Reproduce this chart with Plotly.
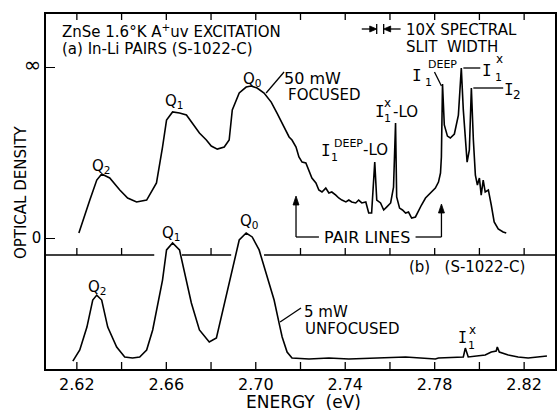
import plotly.graph_objects as go

# ---- (a) 50 mW focused excitation: energy (eV) and optical density (0 .. inf mark at 1)
energy_a = [2.6209, 2.6227, 2.6258, 2.6289, 2.6311, 2.6347, 2.6392, 2.6427, 2.6467, 2.6512,
            2.6556, 2.6583, 2.6601, 2.6628, 2.6659, 2.6690, 2.6717, 2.6748, 2.6779, 2.6801,
            2.6828, 2.6859, 2.6881, 2.6895, 2.6926, 2.6957, 2.6979, 2.7006, 2.7037, 2.7069,
            2.7095, 2.7126, 2.7149, 2.7162, 2.7180, 2.7193, 2.7207, 2.7224, 2.7238, 2.7251,
            2.7269, 2.7282, 2.7296, 2.7313, 2.7327, 2.7340, 2.7358, 2.7371, 2.7385, 2.7403,
            2.7416, 2.7429, 2.7447, 2.7460, 2.7474, 2.7492, 2.7505, 2.7518, 2.7532, 2.7541,
            2.7558, 2.7572, 2.7585, 2.7603, 2.7616, 2.7625, 2.7630, 2.7643, 2.7656, 2.7670,
            2.7683, 2.7697, 2.7714, 2.7728, 2.7741, 2.7759, 2.7772, 2.7786, 2.7803, 2.7817,
            2.7826, 2.7830, 2.7835, 2.7843, 2.7857, 2.7870, 2.7888, 2.7906, 2.7919, 2.7928,
            2.7945, 2.7955, 2.7964, 2.7973, 2.7982, 2.7991, 2.8000, 2.8008, 2.8017, 2.8026,
            2.8040, 2.8053, 2.8066, 2.8084, 2.8106, 2.8120]
od_a = [0.029, 0.105, 0.222, 0.339, 0.374, 0.351, 0.281, 0.234, 0.211, 0.222,
        0.322, 0.532, 0.690, 0.737, 0.731, 0.719, 0.673, 0.614, 0.573, 0.538,
        0.520, 0.532, 0.573, 0.749, 0.848, 0.883, 0.889, 0.877, 0.848, 0.795,
        0.731, 0.649, 0.591, 0.573, 0.532, 0.474, 0.444, 0.439, 0.398, 0.351,
        0.322, 0.281, 0.269, 0.292, 0.263, 0.269, 0.251, 0.234, 0.222, 0.211,
        0.222, 0.211, 0.205, 0.222, 0.205, 0.211, 0.146, 0.146, 0.444, 0.222,
        0.205, 0.164, 0.181, 0.205, 0.298, 0.673, 0.240, 0.175, 0.164, 0.146,
        0.152, 0.117, 0.123, 0.164, 0.193, 0.234, 0.251, 0.269, 0.292, 0.327,
        0.380, 0.474, 0.901, 0.661, 0.596, 0.585, 0.608, 0.719, 0.994, 0.749,
        0.444, 0.515, 0.877, 0.573, 0.368, 0.310, 0.351, 0.251, 0.339, 0.269,
        0.281, 0.193, 0.094, 0.053, 0.035, 0.029]

# ---- (b) 5 mW unfocused excitation (own baseline)
energy_b = [2.6182, 2.6213, 2.6245, 2.6271, 2.6289, 2.6311, 2.6338, 2.6378, 2.6414, 2.6449,
            2.6481, 2.6512, 2.6539, 2.6570, 2.6583, 2.6601, 2.6628, 2.6659, 2.6681, 2.6690,
            2.6712, 2.6748, 2.6792, 2.6824, 2.6850, 2.6881, 2.6895, 2.6926, 2.6957, 2.6984,
            2.7015, 2.7046, 2.7082, 2.7104, 2.7118, 2.7140, 2.7162, 2.7238, 2.7327, 2.7416,
            2.7549, 2.7670, 2.7803, 2.7817, 2.7928, 2.7937, 2.7950, 2.8026, 2.8053, 2.8075,
            2.8080, 2.8089, 2.8129, 2.8173, 2.8218, 2.8262, 2.8302]
od_b = [-0.018, 0.047, 0.181, 0.339, 0.368, 0.339, 0.181, 0.064, 0.006, 0.000,
        0.006, 0.047, 0.164, 0.357, 0.456, 0.632, 0.673, 0.632, 0.497, 0.456,
        0.322, 0.164, 0.094, 0.117, 0.263, 0.456, 0.532, 0.690, 0.731, 0.708,
        0.632, 0.497, 0.339, 0.205, 0.123, 0.035, 0.000, -0.006, 0.000, -0.006,
        0.000, 0.006, -0.006, 0.000, 0.006, 0.058, 0.006, 0.018, 0.035, 0.041,
        0.064, 0.035, 0.018, 0.006, 0.000, 0.006, 0.012]

# ---- axis ticks
label_energies = [2.62, 2.66, 2.70, 2.74, 2.78, 2.82]
label_texts = ["2.62", "2.66", "2.70", "2.74", "2.78", "2.82"]
tick_energies = [2.62, 2.64, 2.66, 2.68, 2.70, 2.72, 2.74, 2.76, 2.78, 2.80, 2.82]
od_ticks = [0, 1]
od_tick_labels = ["0", '<span style="font-size:21px">∞</span>']

# energy intervals where the panel divider is broken to let curve (b) pass
divider_breaks = [(2.6546, 2.6670), (2.6890, 2.7037)]

# ---- page geometry (pixels)
W, H = 558, 411
ML, MR, MT, MB = 46, 1, 14, 42
PW, PH = W - ML - MR, H - MT - MB
X_RANGE = [2.6062, 2.8338]
Y_RANGE_A = [-0.766, 1.310]
Y_RANGE_B = [-0.0643, 2.0117]
DIVIDER_PX = 255  # boundary between panels (a) and (b)


def fx(x):
    return (x - ML) / PW


def fy(y):
    return (H - MB - y) / PH


FONT = "DejaVu Sans"
SERIF_I = '<span style="font-family:DejaVu Sans Mono">I</span>'

fig = go.Figure()
fig.add_trace(go.Scatter(x=energy_a, y=od_a, mode="lines",
                         line=dict(color="black", width=1.6), yaxis="y", hoverinfo="skip"))
fig.add_trace(go.Scatter(x=energy_b, y=od_b, mode="lines",
                         line=dict(color="black", width=1.6), yaxis="y2", hoverinfo="skip"))

shapes = []
annotations = []


def seg(x0, y0, x1, y1, w=1.3):
    shapes.append(dict(type="line", xref="paper", yref="paper",
                       x0=fx(x0), y0=fy(y0), x1=fx(x1), y1=fy(y1),
                       line=dict(color="black", width=w)))


def head(pts):
    """Filled arrowhead triangle given three pixel points."""
    p = "M {} {} L {} {} L {} {} Z".format(*[v for x, y in pts for v in (fx(x), fy(y))])
    shapes.append(dict(type="path", xref="paper", yref="paper", path=p,
                       fillcolor="black", line=dict(color="black", width=0.8)))


def lab(text, x, y, size=15, xanchor="center", yanchor="middle"):
    annotations.append(dict(text=text, x=fx(x), y=fy(y), xref="paper", yref="paper",
                            showarrow=False, xanchor=xanchor, yanchor=yanchor,
                            font=dict(family=FONT, size=size, color="black")))


# ticks along the top and bottom frame edges
for e in tick_energies:
    shapes.append(dict(type="line", xref="x", yref="paper", x0=e, x1=e,
                       ysizemode="pixel", yanchor=0, y0=0, y1=7,
                       line=dict(color="black", width=1.3)))
    shapes.append(dict(type="line", xref="x", yref="paper", x0=e, x1=e,
                       ysizemode="pixel", yanchor=1, y0=0, y1=-6,
                       line=dict(color="black", width=1.3)))

# divider between panels, broken where curve (b) rises through it
yd = fy(DIVIDER_PX)
cur = X_RANGE[0]
pieces = []
for g0, g1 in divider_breaks:
    pieces.append((cur, g0))
    cur = g1
pieces.append((cur, X_RANGE[1]))
for a, b in pieces:
    shapes.append(dict(type="line", xref="x", yref="paper", x0=a, x1=b, y0=yd, y1=yd,
                       line=dict(color="black", width=1.5)))
# upward ticks of panel (a) along the divider
for e in tick_energies:
    if any(g0 <= e <= g1 for g0, g1 in divider_breaks):
        continue
    shapes.append(dict(type="line", xref="x", yref="paper", x0=e, x1=e,
                       ysizemode="pixel", yanchor=yd, y0=0, y1=7,
                       line=dict(color="black", width=1.3)))

# headings
lab("ZnSe 1.6°K A<sup>+</sup>uv EXCITATION", 60, 31, xanchor="left")
lab("(a) In-Li PAIRS (S-1022-C)", 60, 49, xanchor="left")

# peak labels
lab("Q<sub>2</sub>", 102, 166)
lab("Q<sub>1</sub>", 175, 101)
lab("Q<sub>0</sub>", 253, 80)
lab("Q<sub>2</sub>", 98, 287)
lab("Q<sub>1</sub>", 172, 233)
lab("Q<sub>0</sub>", 250, 221)

lab("50 mW", 283, 78, size=16, xanchor="left")
lab("FOCUSED", 287, 95, xanchor="left")
seg(267, 93, 285, 72)
lab("5 mW", 303, 312, xanchor="left")
lab("UNFOCUSED", 304, 329, xanchor="left")
seg(281, 322, 302, 308)

# spectral slit width marker
seg(363, 29, 373, 29)
head([(378, 29), (371, 26), (371, 32)])
seg(378, 24, 378, 34)
seg(385, 24, 385, 34)
head([(385, 29), (392, 26), (392, 32)])
seg(391, 29, 402, 29)
lab("10X SPECTRAL", 405, 30, xanchor="left")
lab("SLIT  WIDTH", 405, 47, xanchor="left")

# line assignments in (a)
lab(SERIF_I, 418, 75, size=16)
lab("DEEP", 427, 64, size=11, xanchor="left")
lab("1", 430, 83, size=11)
seg(436, 72, 443, 86)

seg(465, 68, 482, 68)
lab(SERIF_I, 489, 70, size=16)
lab("x", 501, 59, size=12)
lab("1", 500, 77, size=11)

seg(475, 88, 505, 88)
lab(SERIF_I, 511, 89, size=16)
lab("2", 519, 95, size=12)

lab(SERIF_I, 381, 112, size=16)
lab("x", 389, 103, size=12)
lab("1", 389, 118, size=11)
lab("-LO", 392, 112, xanchor="left")

lab(SERIF_I, 327, 150, size=16)
lab("DEEP", 333, 143, size=11, xanchor="left")
lab("1", 336, 157, size=11)
lab("-LO", 362, 150, xanchor="left")

# pair-lines bracket with upward arrows
seg(297, 237, 320, 237)
seg(417, 237, 443, 237)
seg(297, 237, 297, 203)
head([(297, 196), (294, 205), (300, 205)])
seg(443, 237, 443, 211)
head([(443, 204), (440, 213), (446, 213)])
lab("PAIR LINES", 368, 237, size=16)

lab("(b)   (S-1022-C)", 408, 267, xanchor="left")

# assignment in (b)
lab(SERIF_I, 464, 338, size=15)
lab("x", 474, 330, size=12)
lab("1", 473, 345, size=11)

# axis titles
lab("ENERGY  (eV)", 305, 402, size=17)
annotations.append(dict(text="OPTICAL DENSITY", x=fx(21), y=fy(192), xref="paper", yref="paper",
                        showarrow=False, textangle=-90, xanchor="center", yanchor="middle",
                        font=dict(family=FONT, size=15, color="black")))

fig.update_layout(
    width=W, height=H,
    margin=dict(l=ML, r=MR, t=MT, b=MB, pad=0),
    paper_bgcolor="white", plot_bgcolor="white",
    showlegend=False,
    font=dict(family=FONT, size=15, color="black"),
    xaxis=dict(range=X_RANGE, tickvals=label_energies, ticktext=label_texts,
               ticks="",
               showline=True, linecolor="black", linewidth=1.6, mirror=True,
               showgrid=False, zeroline=False, tickfont=dict(size=16)),
    yaxis=dict(range=Y_RANGE_A, tickvals=od_ticks, ticktext=od_tick_labels,
               ticks="inside", ticklen=9, tickwidth=1.3, tickcolor="black",
               showline=True, linecolor="black", linewidth=1.6, mirror=True,
               showgrid=False, zeroline=False, tickfont=dict(size=15)),
    yaxis2=dict(range=Y_RANGE_B, overlaying="y", visible=False),
    shapes=shapes,
    annotations=annotations,
)

fig.write_html("out.html")
